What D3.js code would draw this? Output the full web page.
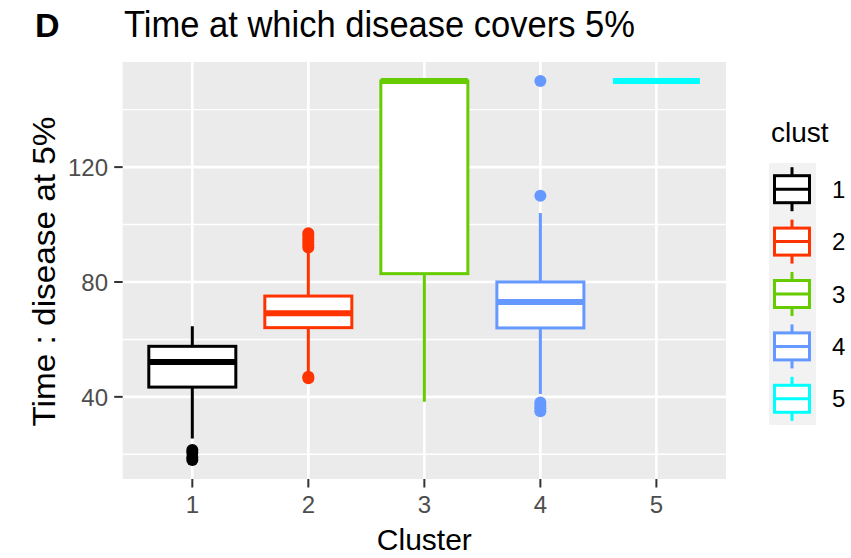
<!DOCTYPE html>
<html><head><meta charset="utf-8">
<script src="https://cdn.jsdelivr.net/npm/d3@7"></script>
<style>
body{margin:0;background:#fff;}
text{font-family:"Liberation Sans",Arial,sans-serif;}
</style>
</head><body><svg id="chart" width="851" height="558"></svg>
<script>
// Boxplot summaries per cluster: time at which disease covers 5%
const clusters = ["1", "2", "3", "4", "5"];
const clusterColors = ["#000000", "#FF3300", "#66CC00", "#6699FF", "#00FFFF"];
const whiskerLow = [25.5, 48, 38.3, 41, 150];
const q1 = [43.4, 64.1, 82.9, 64, 150];
const medians = [52.1, 69.1, 150, 73, 150];
const q3 = [57.6, 75.1, 150, 80, 150];
const whiskerHigh = [64.6, 91, 150, 104, 150];
const outliers = [
  [18, 19, 20.5, 21.5],
  [46.5, 47, 92, 93, 94, 95, 96, 97],
  [],
  [35, 36, 37, 38, 110, 150],
  []
];
const yTicks = [40, 80, 120];
const yMinorTicks = [20, 60, 100, 140];

const svg = d3.select("#chart");
const panel = {left: 122.7, right: 726, top: 62, bottom: 479};

// y domain: data range with ggplot-style 5% expansion
const allVals = whiskerLow.concat(whiskerHigh, outliers.flat());
const lo = d3.min(allVals), hi = d3.max(allVals);
const pad = (hi - lo) * 0.05;
const y = d3.scaleLinear().domain([lo - pad, hi + pad]).range([panel.bottom, panel.top]);
const x = d3.scalePoint().domain(clusters).range([panel.left, panel.right]).padding(0.6);
const boxW = x.step() * 0.75;

// panel background and grid
svg.append("rect").attr("x", panel.left).attr("y", panel.top)
  .attr("width", panel.right - panel.left).attr("height", panel.bottom - panel.top)
  .attr("fill", "#EBEBEB");
const grid = svg.append("g");
grid.selectAll(".ymin").data(yMinorTicks).join("line")
  .attr("x1", panel.left).attr("x2", panel.right)
  .attr("y1", d => y(d)).attr("y2", d => y(d))
  .attr("stroke", "#fff").attr("stroke-width", 1.4);
grid.selectAll(".ymaj").data(yTicks).join("line")
  .attr("x1", panel.left).attr("x2", panel.right)
  .attr("y1", d => y(d)).attr("y2", d => y(d))
  .attr("stroke", "#fff").attr("stroke-width", 2.6);
grid.selectAll(".xmaj").data(clusters).join("line")
  .attr("x1", d => x(d)).attr("x2", d => x(d))
  .attr("y1", panel.top).attr("y2", panel.bottom)
  .attr("stroke", "#fff").attr("stroke-width", 2.6);

// boxes
const boxes = svg.append("g");
clusters.forEach((c, i) => {
  const g = boxes.append("g");
  const cx = x(c), col = clusterColors[i];
  g.selectAll("circle").data(outliers[i]).join("circle")
    .attr("cx", cx).attr("cy", d => y(d)).attr("r", 6).attr("fill", col);
  g.append("line").attr("x1", cx).attr("x2", cx)
    .attr("y1", y(whiskerHigh[i])).attr("y2", y(q3[i]))
    .attr("stroke", col).attr("stroke-width", 3);
  g.append("line").attr("x1", cx).attr("x2", cx)
    .attr("y1", y(q1[i])).attr("y2", y(whiskerLow[i]))
    .attr("stroke", col).attr("stroke-width", 3);
  g.append("rect").attr("x", cx - boxW / 2).attr("width", boxW)
    .attr("y", y(q3[i])).attr("height", y(q1[i]) - y(q3[i]))
    .attr("fill", "#fff").attr("stroke", col).attr("stroke-width", 3);
  g.append("line").attr("x1", cx - boxW / 2).attr("x2", cx + boxW / 2)
    .attr("y1", y(medians[i])).attr("y2", y(medians[i]))
    .attr("stroke", col).attr("stroke-width", 6);
});

// axes
const yAxis = svg.append("g");
yAxis.selectAll("line").data(yTicks).join("line")
  .attr("x1", panel.left - 8.5).attr("x2", panel.left)
  .attr("y1", d => y(d)).attr("y2", d => y(d))
  .attr("stroke", "#333").attr("stroke-width", 2);
yAxis.selectAll("text").data(yTicks).join("text")
  .attr("x", 108).attr("y", d => y(d)).attr("dy", "0.36em")
  .attr("text-anchor", "end").attr("font-size", 24).attr("fill", "#4D4D4D")
  .text(d => d);
const xAxis = svg.append("g");
xAxis.selectAll("line").data(clusters).join("line")
  .attr("x1", d => x(d)).attr("x2", d => x(d))
  .attr("y1", panel.bottom).attr("y2", panel.bottom + 8.5)
  .attr("stroke", "#333").attr("stroke-width", 2);
xAxis.selectAll("text").data(clusters).join("text")
  .attr("x", d => x(d)).attr("y", 512.7)
  .attr("text-anchor", "middle").attr("font-size", 24).attr("fill", "#4D4D4D")
  .text(d => d);

// titles
svg.append("text").attr("x", 35).attr("y", 36.5)
  .attr("font-size", 34).attr("font-weight", "bold").text("D");
svg.append("text").attr("x", 124).attr("y", 37)
  .attr("font-size", 36).attr("textLength", 511).attr("lengthAdjust", "spacingAndGlyphs")
  .text("Time at which disease covers 5%");
svg.append("text").attr("x", (panel.left + panel.right) / 2).attr("y", 550)
  .attr("text-anchor", "middle").attr("font-size", 30).text("Cluster");
svg.append("text").attr("transform", "translate(55," + ((panel.top + panel.bottom) / 2 + 1) + ") rotate(-90)")
  .attr("text-anchor", "middle").attr("font-size", 31)
  .attr("textLength", 310).attr("lengthAdjust", "spacingAndGlyphs")
  .text("Time : disease at 5%");

// legend
const legend = svg.append("g");
legend.append("text").attr("x", 771).attr("y", 142).attr("font-size", 28).text("clust");
legend.append("rect").attr("x", 769).attr("y", 163).attr("width", 47).attr("height", 262)
  .attr("fill", "#F2F2F2");
const keyH = 262 / clusters.length;
clusters.forEach((c, i) => {
  const cy = 163 + keyH * (i + 0.5), col = clusterColors[i];
  const k = legend.append("g");
  k.append("line").attr("x1", 792).attr("x2", 792).attr("y1", cy - 22).attr("y2", cy + 22)
    .attr("stroke", col).attr("stroke-width", 3);
  k.append("rect").attr("x", 774.5).attr("y", cy - 13.5).attr("width", 35).attr("height", 27)
    .attr("fill", "#fff").attr("stroke", col).attr("stroke-width", 3);
  k.append("line").attr("x1", 774.5).attr("x2", 809.5).attr("y1", cy).attr("y2", cy)
    .attr("stroke", col).attr("stroke-width", 3);
  k.append("text").attr("x", 832).attr("y", cy).attr("dy", "0.36em")
    .attr("font-size", 24).text(c);
});
</script>
</body></html>
